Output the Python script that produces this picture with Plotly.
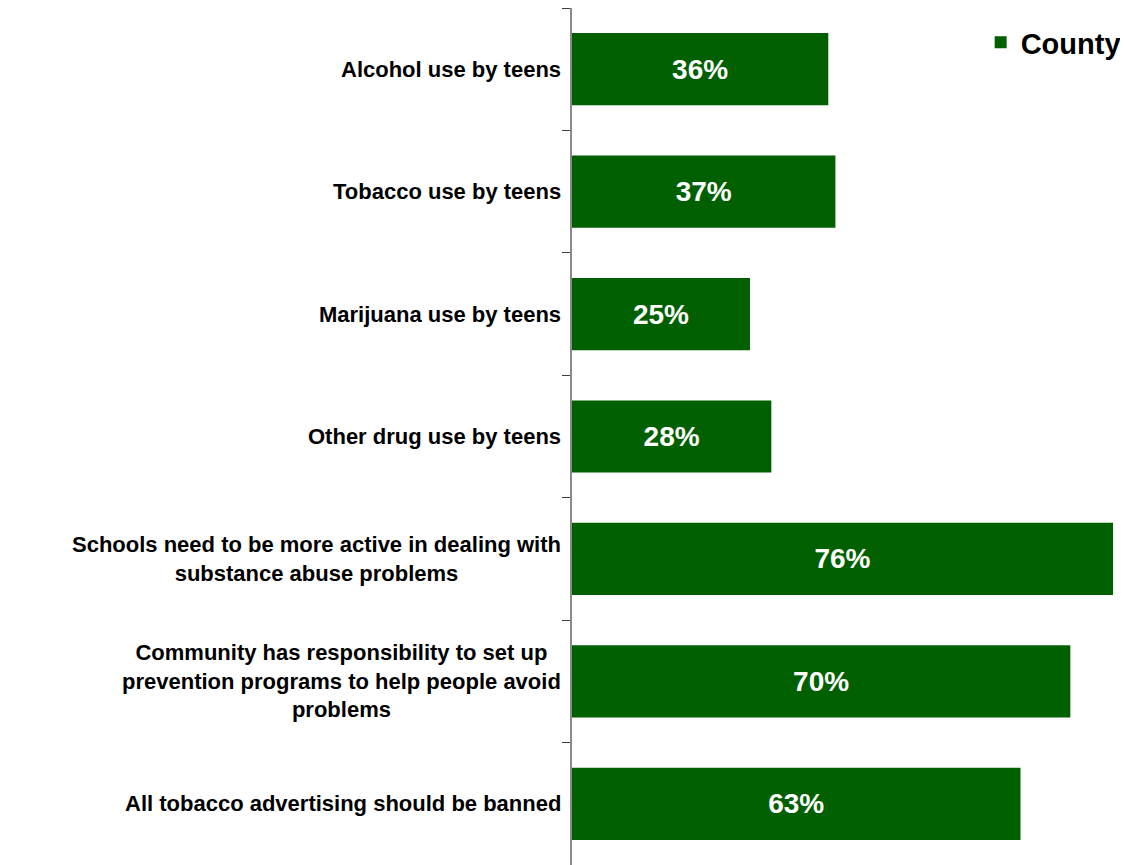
import plotly.graph_objects as go

categories = [
    "Alcohol use by teens",
    "Tobacco use by teens",
    "Marijuana use by teens",
    "Other drug use by teens",
    "Schools need to be more active in dealing with<br>substance abuse problems",
    "Community has responsibility to set up<br>prevention programs to help people avoid<br>problems",
    "All tobacco advertising should be banned",
]
county = [36, 37, 25, 28, 76, 70, 63]
series_name = "County"

GREEN = "#006000"
FONT = "Liberation Sans, Arial, sans-serif"

fig = go.Figure()
fig.add_trace(go.Bar(
    y=categories,
    x=county,
    orientation="h",
    name=series_name,
    marker=dict(color=GREEN, line=dict(width=0)),
    texttemplate="<b>%{x}%</b>",
    textposition="inside",
    insidetextanchor="middle",
    textfont=dict(color="white", size=28, family=FONT),
    hoverinfo="skip",
))

for c in categories:
    fig.add_annotation(
        x=0, xref="paper", y=c, yref="y",
        text="<b>" + c + "</b>",
        showarrow=False, xanchor="right", align="center",
        xshift=-9,
        font=dict(size=22, color="black", family=FONT),
    )

fig.update_layout(
    width=1120, height=857,
    margin=dict(l=564, r=0, t=0, b=0, autoexpand=False),
    paper_bgcolor="white", plot_bgcolor="white",
    bargap=0.41,
    showlegend=True,
    legend=dict(
        x=0.735, y=0.9895, xanchor="left", yanchor="top", xref="paper", yref="paper",
        font=dict(size=29, family=FONT, color="black", weight="bold"),
        bgcolor="rgba(0,0,0,0)", borderwidth=0, itemwidth=30,
    ),
    font=dict(family=FONT),
)
fig.update_xaxes(range=[0, 78.1], visible=False, showgrid=False, zeroline=False)
fig.update_yaxes(
    autorange="reversed",
    showticklabels=False,
    showgrid=False,
    showline=True, linecolor="#8a8a8a", linewidth=2,
    ticks="outside", tickson="boundaries", ticklen=8, tickcolor="#404040", tickwidth=1,
)

fig.write_html("out.html")
